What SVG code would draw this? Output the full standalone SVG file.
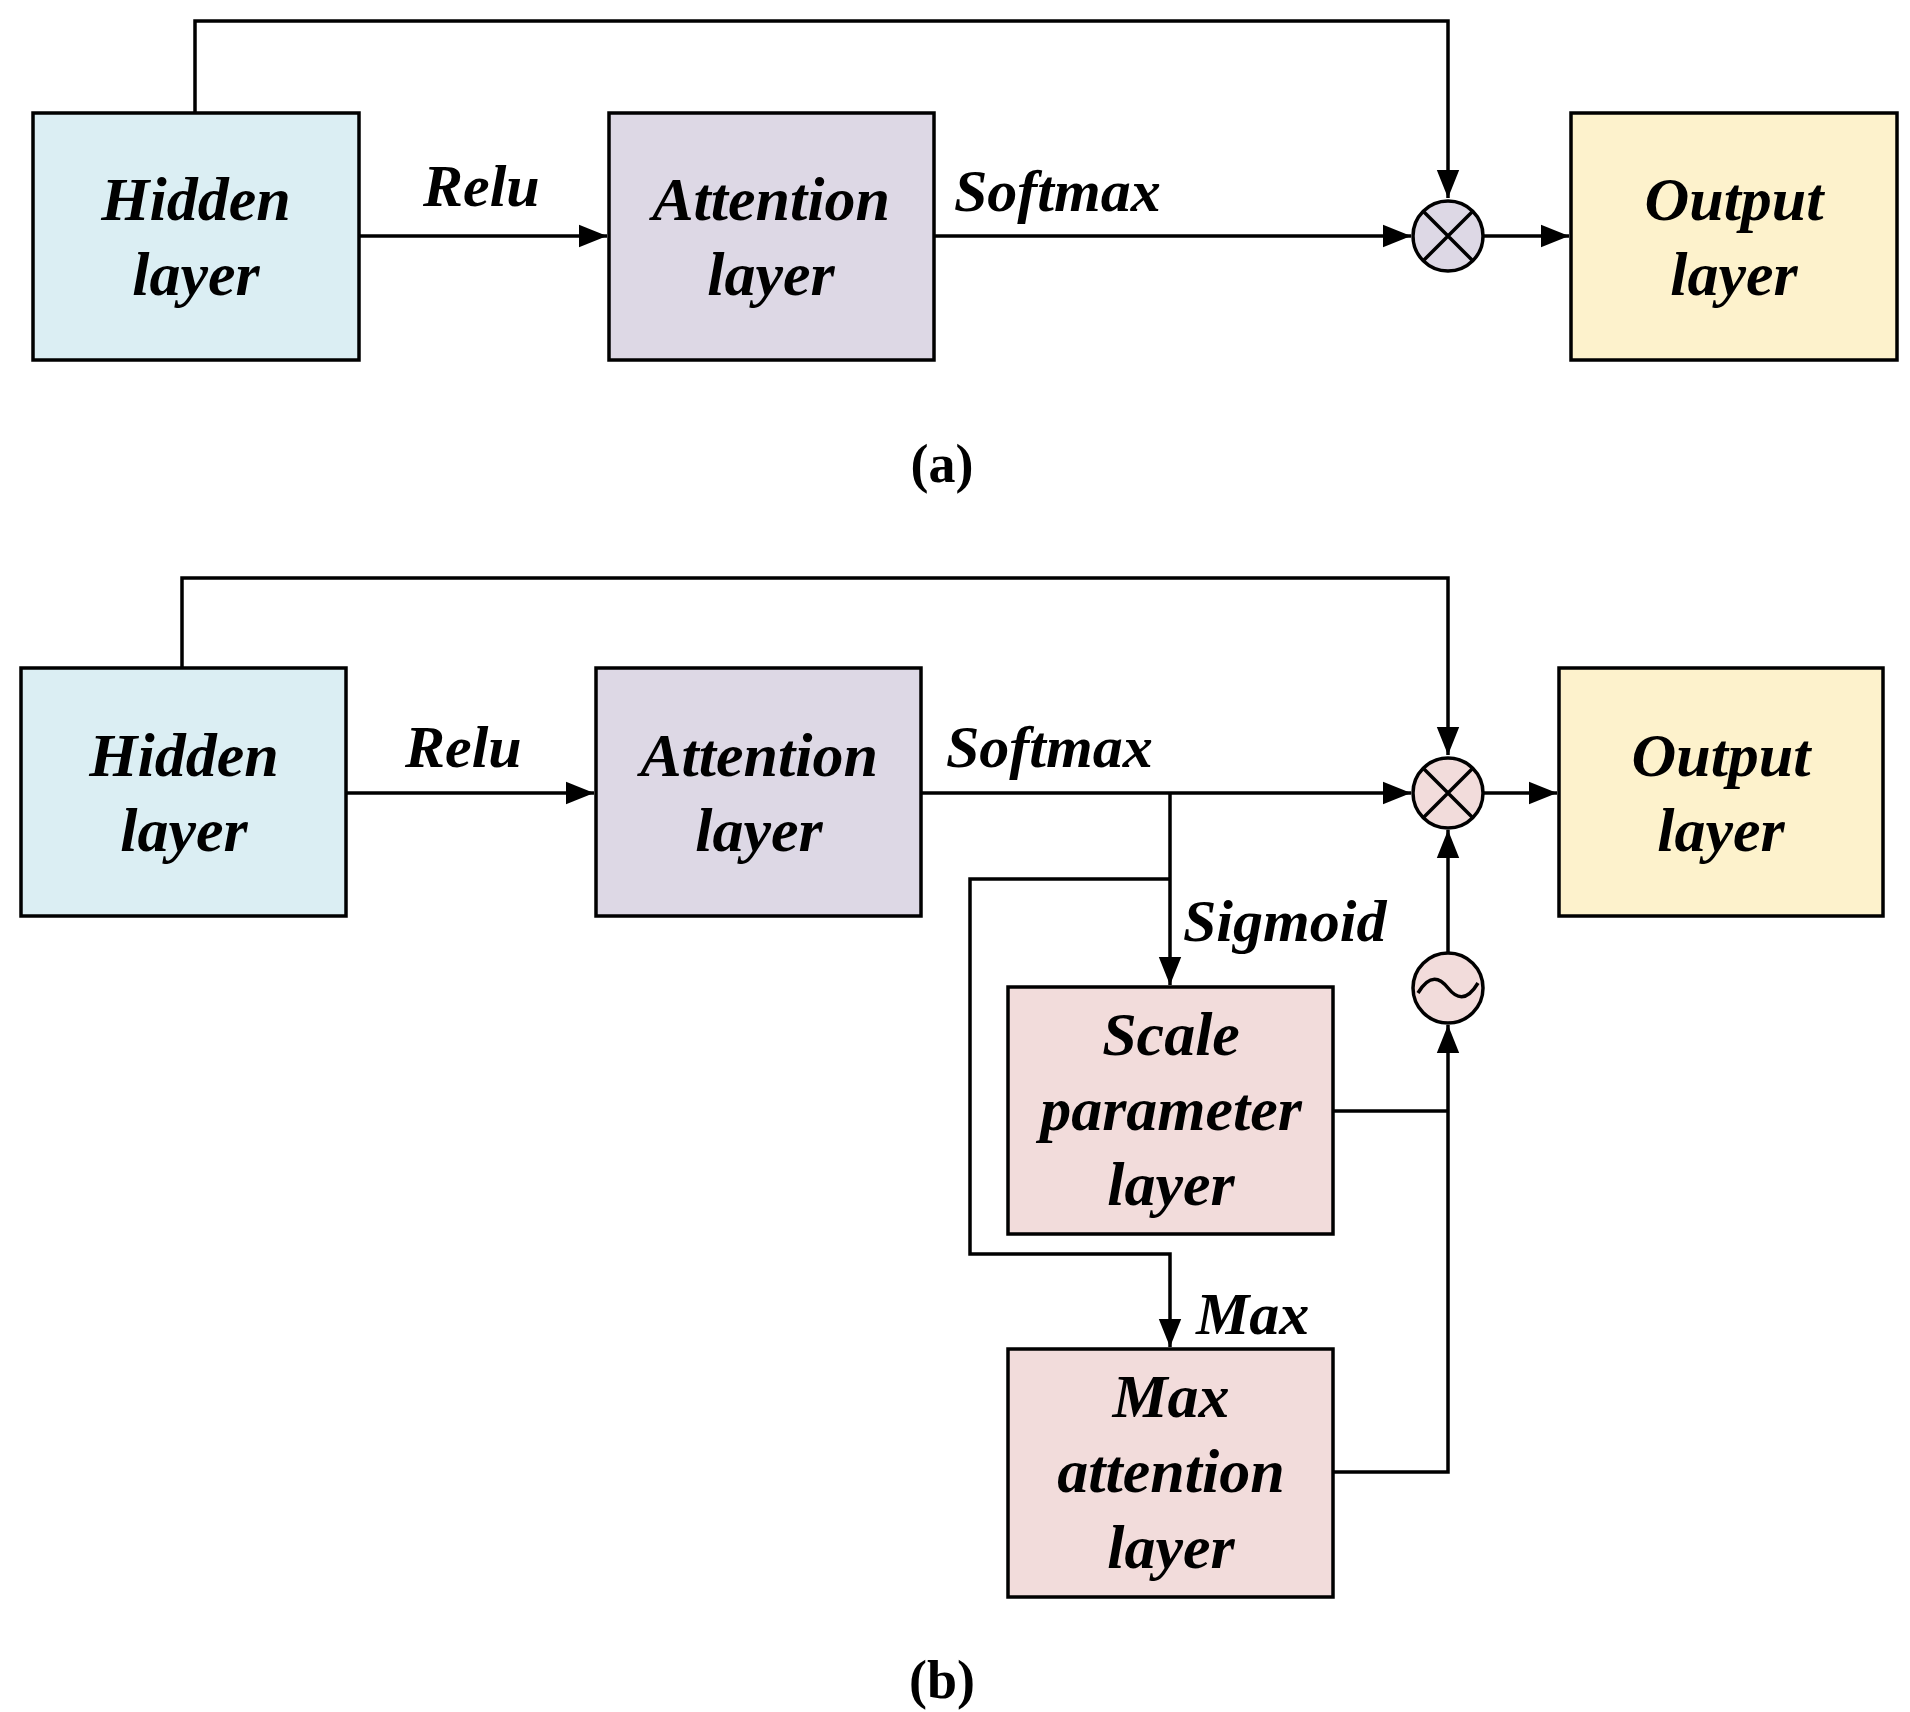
<svg xmlns="http://www.w3.org/2000/svg" width="1910" height="1712" viewBox="0 0 1910 1712">
<style>
.box{stroke:#000;stroke-width:3.5}
.ln{fill:none;stroke:#000;stroke-width:3.5}
.t{font-family:"Liberation Serif",serif;font-weight:bold;font-style:italic;font-size:62px;text-anchor:middle}
.lb{font-family:"Liberation Serif",serif;font-weight:bold;font-style:italic;font-size:60px}
.cap{font-family:"Liberation Serif",serif;font-weight:bold;font-size:54px;text-anchor:middle}
</style>
<defs>
<marker id="ar" viewBox="0 0 10 10" refX="10" refY="5" markerWidth="28" markerHeight="28" markerUnits="userSpaceOnUse" orient="auto"><path d="M0,1L10,5L0,9z"/></marker></defs>
<g id="connectors">
<path class="ln" d="M195,113V21H1448V198" marker-end="url(#ar)"/>
<path class="ln" d="M359,236H607" marker-end="url(#ar)"/>
<path class="ln" d="M934,236H1411" marker-end="url(#ar)"/>
<path class="ln" d="M1483,236H1569" marker-end="url(#ar)"/>
<path class="ln" d="M182,668V578H1448V755" marker-end="url(#ar)"/>
<path class="ln" d="M346,793H594" marker-end="url(#ar)"/>
<path class="ln" d="M921,793H1411" marker-end="url(#ar)"/>
<path class="ln" d="M1483,793H1557" marker-end="url(#ar)"/>
<path class="ln" d="M1170,793V985" marker-end="url(#ar)"/>
<path class="ln" d="M1170,879H970V1254H1170V1347" marker-end="url(#ar)"/>
<path class="ln" d="M1333,1111H1448"/>
<path class="ln" d="M1333,1472H1448V1025" marker-end="url(#ar)"/>
<path class="ln" d="M1448,953V830" marker-end="url(#ar)"/>
</g>
<g id="a-hidden"><rect class="box" x="33" y="113" width="326" height="247" fill="#dbeef3"/><text class="t" x="196" y="220">Hidden</text><text class="t" x="196" y="295">layer</text></g>
<g id="a-attention"><rect class="box" x="609" y="113" width="325" height="247" fill="#ddd8e5"/><text class="t" x="771" y="220">Attention</text><text class="t" x="771" y="295">layer</text></g>
<g id="a-output"><rect class="box" x="1571" y="113" width="326" height="247" fill="#fdf2cc"/><text class="t" x="1734" y="220">Output</text><text class="t" x="1734" y="295">layer</text></g>
<g id="a-mult"><circle class="box" cx="1448" cy="236" r="35" fill="#ddd8e5"/><path class="ln" d="M1423,211L1473,261M1473,211L1423,261"/></g>
<text class="lb" x="423" y="206">Relu</text>
<text class="lb" x="954" y="211">Softmax</text>
<text class="cap" x="942" y="482">(a)</text>
<g id="b-hidden"><rect class="box" x="21" y="668" width="325" height="248" fill="#dbeef3"/><text class="t" x="184" y="776">Hidden</text><text class="t" x="184" y="851">layer</text></g>
<g id="b-attention"><rect class="box" x="596" y="668" width="325" height="248" fill="#ddd8e5"/><text class="t" x="759" y="776">Attention</text><text class="t" x="759" y="851">layer</text></g>
<g id="b-output"><rect class="box" x="1559" y="668" width="324" height="248" fill="#fdf2cc"/><text class="t" x="1721" y="776">Output</text><text class="t" x="1721" y="851">layer</text></g>
<g id="b-mult"><circle class="box" cx="1448" cy="793" r="35" fill="#f2dcdb"/><path class="ln" d="M1423,768L1473,818M1473,768L1423,818"/></g>
<g id="b-tilde"><circle class="box" cx="1448" cy="988" r="35" fill="#f2dcdb"/><path class="ln" d="M1418,993C1430,973 1440,978 1448,988C1456,998 1466,1003 1478,983"/></g>
<g id="b-scale"><rect class="box" x="1008" y="987" width="325" height="247" fill="#f2dcdb"/><text class="t" x="1171" y="1055">Scale</text><text class="t" x="1171" y="1130">parameter</text><text class="t" x="1171" y="1205">layer</text></g>
<g id="b-max"><rect class="box" x="1008" y="1349" width="325" height="248" fill="#f2dcdb"/><text class="t" x="1171" y="1417">Max</text><text class="t" x="1171" y="1492">attention</text><text class="t" x="1171" y="1568">layer</text></g>
<text class="lb" x="405" y="767">Relu</text>
<text class="lb" x="946" y="767">Softmax</text>
<text class="lb" x="1183" y="941">Sigmoid</text>
<text class="lb" x="1196" y="1334">Max</text>
<text class="cap" x="942" y="1698">(b)</text>
</svg>
